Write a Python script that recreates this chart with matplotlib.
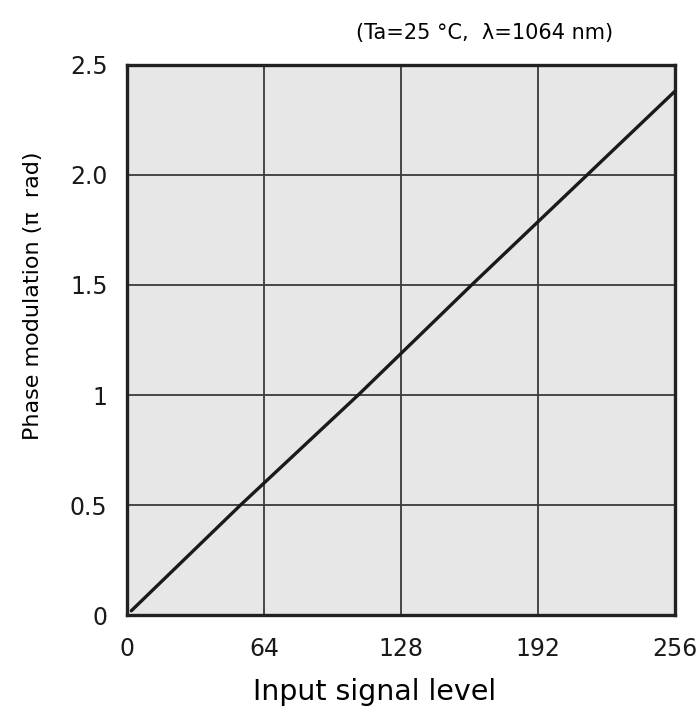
import matplotlib
import matplotlib.pyplot as plt

matplotlib.use("Agg")

# Phase modulation vs input signal level
signalLevel = [2, 53, 108, 161, 215, 256]
phaseMod = [0.02, 0.5, 1.0, 1.5, 2.0, 2.38]

xTicks = [0, 64, 128, 192, 256]
yTicks = [0, 0.5, 1, 1.5, 2.0, 2.5]
yTickLabels = ["0", "0.5", "1", "1.5", "2.0", "2.5"]

plt.rcParams["font.family"] = ["DejaVu Sans"]

fig = plt.figure(figsize=(6.98, 7.12), dpi=100)
ax = fig.add_axes([0.182, 0.136, 0.785, 0.773])
ax.set_facecolor("#e6e7e6")

ax.plot(signalLevel, phaseMod, color="#1a1a1a", linewidth=2.4, solid_capstyle="round", zorder=3)

ax.set_xlim(0, 256)
ax.set_ylim(0, 2.5)
ax.set_xticks(xTicks)
ax.set_yticks(yTicks)
ax.set_yticklabels(yTickLabels)
ax.tick_params(length=0, labelsize=17, colors="#1a1a1a")
ax.tick_params(axis="x", pad=16)
ax.tick_params(axis="y", pad=14)

ax.grid(True, color="#3a3a3a", linewidth=1.3)
ax.set_axisbelow(True)
for spine in ax.spines.values():
  spine.set_linewidth(2.4)
  spine.set_color("#222222")

# Axis labels, placed where the reference has them
ax.set_xlabel("Input signal level", fontsize=20.5, va="center")
ax.xaxis.set_label_coords(0.4526, -0.139)
ax.set_ylabel("Phase modulation (π  rad)", fontsize=16, va="center")
ax.yaxis.set_label_coords(-0.172, 0.581)

fig.text(0.694, 0.953, "(Ta=25 °C,  λ=1064 nm)", fontsize=15, ha="center", va="center")

fig.savefig("out.png", dpi=100)
